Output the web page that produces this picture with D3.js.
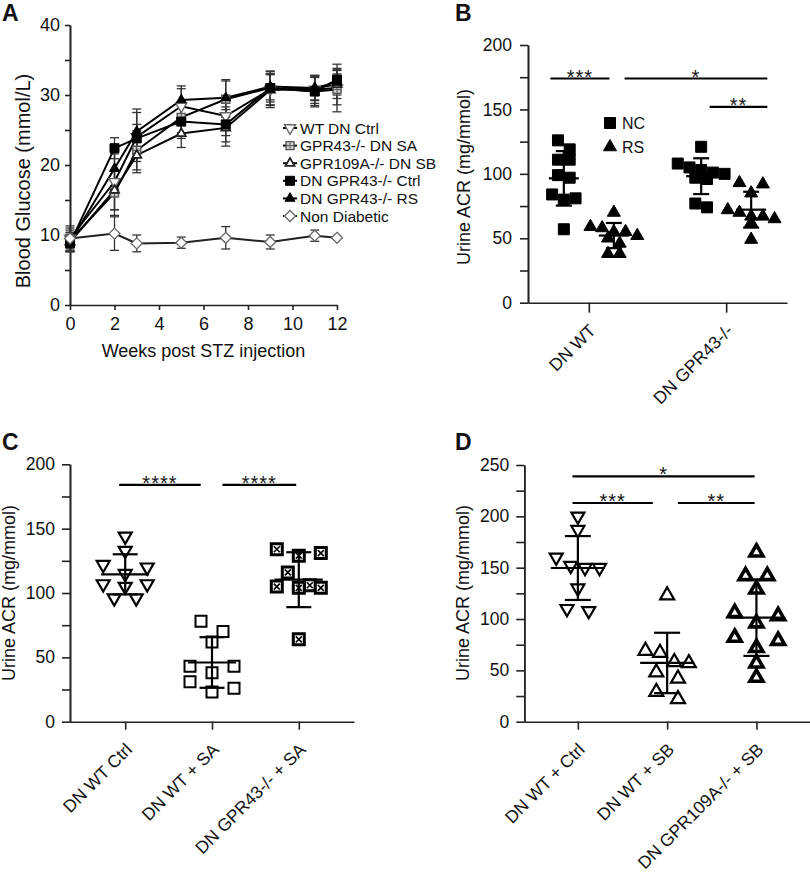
<!DOCTYPE html>
<html><head><meta charset="utf-8">
<script src="https://cdn.jsdelivr.net/npm/d3@7"></script>
<style>
body{margin:0;background:#fff}
svg{display:block}
text{font-family:"Liberation Sans",Arial,Helvetica,sans-serif;fill:#111}
</style>
</head><body>
<svg id="chart" width="810" height="872"></svg>
<script>
// ---------------- DATA ----------------
// Panel A: blood glucose time course
const aWeeks = [0, 2, 3, 5, 7, 9, 11, 12];
const aSeriesNames = ["WT DN Ctrl", "GPR43-/- DN SA", "GPR109A-/- DN SB", "DN GPR43-/- Ctrl", "DN GPR43-/- RS", "Non Diabetic"];
const aWtDnCtrl      = [9.5, 17.6, 24.0, 28.4, 27.0, 30.8, 30.8, 31.0];
const aWtDnCtrlSd    = [1.5, 4.0, 3.5, 2.5, 2.8, 2.6, 2.0, 3.4];
const aGpr43DnSa     = [9.2, 16.0, 22.1, 26.8, 29.4, 31.0, 30.5, 30.8];
const aGpr43DnSaSd   = [1.5, 3.2, 2.8, 2.2, 2.6, 2.4, 2.0, 2.2];
const aGpr109aDnSb   = [9.0, 16.4, 21.4, 24.5, 25.3, 30.7, 31.0, 31.5];
const aGpr109aDnSbSd = [1.4, 2.8, 2.5, 2.0, 2.6, 2.2, 1.8, 2.0];
const aGpr43Ctrl     = [8.8, 22.4, 23.8, 26.2, 25.8, 31.0, 30.5, 32.2];
const aGpr43CtrlSd   = [1.2, 1.5, 2.0, 2.4, 2.5, 2.0, 2.2, 1.6];
const aGpr43Rs       = [9.0, 19.5, 24.8, 29.3, 29.6, 31.2, 31.0, 31.8];
const aGpr43RsSd     = [1.3, 2.5, 3.2, 2.0, 2.6, 1.9, 1.7, 1.8];
const aNonDiabetic   = [9.5, 10.2, 8.8, 8.9, 9.6, 9.0, 9.9, 9.6];
const aNonDiabeticSd = [1.8, 2.4, 1.2, 0.8, 1.6, 1.0, 0.8, 0];
const aYTicks = [0, 10, 20, 30, 40];
const aXTicks = [0, 2, 4, 6, 8, 10, 12];

// Panel B
const bCats = ["DN WT", "DN GPR43-/-"];
const bDiets = ["NC", "RS"];
const bWtNc    = [126, 119, 111, 111, 99, 97, 84, 81, 80, 57];
const bWtRs    = [70, 59, 58, 55, 55, 52, 50, 46, 38, 38];
const bGpr43Nc = [121, 108, 105, 103, 101, 100, 97, 96, 77, 74];
const bGpr43Rs = [93, 92, 85, 72, 70, 67, 67, 65, 62, 49];
const bYTicks = [0, 50, 100, 150, 200];
const bSigLabel = ["***", "*", "**"];
const bSigFrom  = [-0.28, 0.26, 0.88];
const bSigTo    = [0.15, 1.30, 1.30];
const bSigLevel = [174, 174, 152];

// Panel C
const cCats = ["DN WT Ctrl", "DN WT + SA", "DN GPR43-/- + SA"];
const cWtCtrl  = [144, 133, 122, 120, 115, 107, 107, 105, 96, 96];
const cWtSa    = [78, 70, 62, 43, 43, 38, 31, 26, 23];
const cGpr43Sa = [134, 131, 129, 116, 106, 105, 104, 104, 64];
const cYTicks = [0, 50, 100, 150, 200];
const cSigLabel = ["****", "****"];
const cSigFrom  = [-0.07, 1.12];
const cSigTo    = [0.87, 1.97];
const cSigLevel = [184, 184];

// Panel D
const dCats = ["DN WT + Ctrl", "DN WT + SB", "DN GPR109A-/- + SB"];
const dWtCtrl     = [200, 187, 160, 152, 150, 150, 130, 110, 108];
const dWtSb       = [123, 69, 67, 58, 57, 48, 42, 29, 22];
const dGpr109aSb  = [165, 142, 142, 129, 106, 103, 96, 82, 79, 72, 57, 43];
const dYTicks = [0, 50, 100, 150, 200, 250];
const dSigLabel = ["*", "***", "**"];
const dSigFrom  = [-0.06, -0.06, 1.12];
const dSigTo    = [1.98, 0.84, 1.98];
const dSigLevel = [239, 213, 213];

// ---------------- DRAWING ----------------
const svg = d3.select("#chart");
const AX = "#222";

function triPath(s, up) {
  const h = s * 0.866;
  return up ? `M0,${-h*2/3}L${s/2},${h/3}L${-s/2},${h/3}Z`
            : `M0,${h*2/3}L${s/2},${-h/3}L${-s/2},${-h/3}Z`;
}
function sqPath(s) { return `M${-s/2},${-s/2}h${s}v${s}h${-s}Z`; }
function diaPath(s) { return `M0,${-s/2}L${s/2},0L0,${s/2}L${-s/2},0Z`; }

const markerStyles = {
  aTriDown:  {p: triPath(11, false), fill: "#fff", stroke: "#666", sw: 1.4},
  aSqGrid:   {p: sqPath(8), fill: "#ccc", stroke: "#555", sw: 1.4, cross: "plus"},
  aTriSmall: {p: triPath(9, true), fill: "#fff", stroke: "#222", sw: 1.8},
  aSqFill:   {p: sqPath(9), fill: "#000", stroke: "#000", sw: 1},
  aTriFill:  {p: triPath(10, true), fill: "#000", stroke: "#000", sw: 1},
  aDia:      {p: diaPath(11), fill: "#fff", stroke: "#666", sw: 1.3},
  bSq:       {p: sqPath(11), fill: "#000", stroke: "#000", sw: 1},
  bTri:      {p: triPath(13, true), fill: "#000", stroke: "#000", sw: 1},
  cTriDown:  {p: triPath(13, false), fill: "none", stroke: "#000", sw: 2.2},
  cSq:       {p: sqPath(11), fill: "none", stroke: "#000", sw: 2},
  cSqX:      {p: sqPath(11), fill: "#fff", stroke: "#000", sw: 3, cross: "x"},
  dTriUp:    {p: triPath(14, true), fill: "none", stroke: "#000", sw: 2.2},
  dTriHalf:  {p: triPath(13, true), fill: "#fff", stroke: "#000", sw: 3.6}
};

function drawMarker(g, key, x, y) {
  const st = markerStyles[key];
  const m = g.append("g").attr("transform", `translate(${x},${y})`);
  m.append("path").attr("d", st.p).attr("fill", st.fill).attr("stroke", st.stroke)
    .attr("stroke-width", st.sw).attr("stroke-linejoin", "miter");
  if (st.cross === "x") {
    m.append("path").attr("d", "M-3,-3L3,3M3,-3L-3,3").attr("stroke", "#000").attr("stroke-width", 1.6);
  } else if (st.cross === "plus") {
    m.append("path").attr("d", "M-4,0H4M0,-4V4").attr("stroke", "#555").attr("stroke-width", 1);
  }
}

function panelLetter(t, x, y) {
  svg.append("text").attr("x", x).attr("y", y).attr("font-size", 23).attr("font-weight", "bold").text(t);
}

function styleAxis(g, fs) {
  g.selectAll(".domain").attr("stroke", AX).attr("stroke-width", 1.6);
  g.selectAll(".tick line").attr("stroke", AX).attr("stroke-width", 1.6);
  g.selectAll(".tick text").attr("font-size", fs).attr("fill", "#111")
    .style("font-family", '"Liberation Sans", Arial, Helvetica, sans-serif');
}

function yAxis(y, x, major, step, tickLen, pad, fs) {
  const minor = [];
  for (let v = major[0]; v <= major[major.length-1]; v += step) if (!major.includes(v)) minor.push(v);
  const g1 = svg.append("g").attr("transform", `translate(${x},0)`)
    .call(d3.axisLeft(y).tickValues(minor).tickSize(tickLen).tickSizeOuter(0).tickFormat(""));
  styleAxis(g1, fs);
  const g = svg.append("g").attr("transform", `translate(${x},0)`)
    .call(d3.axisLeft(y).tickValues(major).tickSize(tickLen).tickSizeOuter(0).tickPadding(pad).tickFormat(d3.format("d")));
  styleAxis(g, fs);
  return g;
}

function yTitle(text, x, y, fs) {
  svg.append("text").attr("transform", `translate(${x},${y}) rotate(-90)`)
    .attr("text-anchor", "middle").attr("font-size", fs).text(text);
}

function catAxis(xs, yPos, cats, tickLen, fs) {
  const g = svg.append("g").attr("transform", `translate(0,${yPos})`)
    .call(d3.axisBottom(xs).tickSize(tickLen).tickSizeOuter(0).tickFormat(""));
  styleAxis(g, fs);
  cats.forEach(c => {
    svg.append("text")
      .attr("transform", `translate(${xs(c) + 8},${yPos + 29}) rotate(-45)`)
      .attr("text-anchor", "end").attr("font-size", fs).text(c);
  });
}

// row-based scatter spreading (computed from values, like GraphPad)
function swarmOffsets(vals, y, binPx) {
  const order = vals.map((v, i) => i).sort((a, b) => vals[b] - vals[a]);
  const rows = [];
  order.forEach(i => {
    const py = y(vals[i]);
    const last = rows[rows.length - 1];
    if (last && Math.abs(py - last.y0) < binPx) last.items.push(i);
    else rows.push({y0: py, items: [i]});
  });
  const off = new Array(vals.length);
  const pattern = {1: [0], 2: [-0.5, 0.5], 3: [-1, 1, 0], 4: [-1, -0.33, 0.33, 1], 5: [-2, -1, 0, 1, 2]};
  rows.forEach(r => {
    const p = pattern[r.items.length] || r.items.map((_, k) => k - (r.items.length - 1) / 2);
    r.items.forEach((idx, k) => off[idx] = p[k]);
  });
  return off;
}

function scatterGroup(vals, cx, y, key, colStep, binPx, meanHalf, capHalf) {
  const offs = swarmOffsets(vals, y, binPx);
  const g = svg.append("g");
  vals.forEach((v, i) => drawMarker(g, key, cx + offs[i] * colStep, y(v)));
  const m = d3.mean(vals), sd = d3.deviation(vals);
  const eb = svg.append("g").attr("stroke", "#000").attr("stroke-width", 2.2).attr("fill", "none");
  eb.append("line").attr("x1", cx).attr("x2", cx).attr("y1", y(m + sd)).attr("y2", y(m - sd));
  eb.append("line").attr("x1", cx - meanHalf).attr("x2", cx + meanHalf).attr("y1", y(m)).attr("y2", y(m));
  [m + sd, m - sd].forEach(v => eb.append("line").attr("x1", cx - capHalf).attr("x2", cx + capHalf).attr("y1", y(v)).attr("y2", y(v)));
}

function sigBars(xi, y, labels, from, to, level, fs) {
  labels.forEach((lab, i) => {
    const x1 = xi(from[i]), x2 = xi(to[i]), yy = y(level[i]);
    svg.append("line").attr("x1", x1).attr("x2", x2).attr("y1", yy).attr("y2", yy)
      .attr("stroke", "#000").attr("stroke-width", 2.2);
    svg.append("text").attr("x", (x1 + x2) / 2).attr("y", yy + 5).attr("text-anchor", "middle")
      .attr("font-size", fs).attr("letter-spacing", 1).text(lab);
  });
}

// ---------- Panel A ----------
{
  panelLetter("A", 2, 21);
  const x = d3.scaleLinear().domain([0, 12]).range([70, 337]);
  const y = d3.scaleLinear().domain([0, 40]).range([305, 25]);
  yAxis(y, 70, aYTicks, 5, 5, 5, 18);
  const gx = svg.append("g").attr("transform", "translate(0,305)")
    .call(d3.axisBottom(x).tickValues(aXTicks).tickSize(5).tickSizeOuter(0).tickPadding(7).tickFormat(d3.format("d")));
  styleAxis(gx, 18);
  svg.append("text").attr("x", 203.5).attr("y", 357).attr("text-anchor", "middle").attr("font-size", 18)
    .text("Weeks post STZ injection");
  yTitle("Blood Glucose (mmol/L)", 30, 181, 20);

  const series = [
    {vals: aWtDnCtrl, sd: aWtDnCtrlSd, mk: "aTriDown", lc: "#000"},
    {vals: aGpr43DnSa, sd: aGpr43DnSaSd, mk: "aSqGrid", lc: "#000"},
    {vals: aGpr109aDnSb, sd: aGpr109aDnSbSd, mk: "aTriSmall", lc: "#000"},
    {vals: aGpr43Ctrl, sd: aGpr43CtrlSd, mk: "aSqFill", lc: "#000"},
    {vals: aGpr43Rs, sd: aGpr43RsSd, mk: "aTriFill", lc: "#000"},
    {vals: aNonDiabetic, sd: aNonDiabeticSd, mk: "aDia", lc: "#222"}
  ];
  const line = d3.line().x((d, i) => x(aWeeks[i])).y(d => y(d));
  series.forEach(s => {
    const g = svg.append("g").attr("stroke", "#333").attr("stroke-width", 1.3);
    s.vals.forEach((v, i) => {
      if (!s.sd[i]) return;
      const cx = x(aWeeks[i]);
      g.append("line").attr("x1", cx).attr("x2", cx).attr("y1", y(v + s.sd[i])).attr("y2", y(v - s.sd[i]));
      [v + s.sd[i], v - s.sd[i]].forEach(e => g.append("line").attr("x1", cx - 4.5).attr("x2", cx + 4.5).attr("y1", y(e)).attr("y2", y(e)));
    });
  });
  series.forEach(s => {
    svg.append("path").datum(s.vals).attr("d", line).attr("fill", "none")
      .attr("stroke", s.lc).attr("stroke-width", 2);
  });
  series.forEach(s => {
    const g = svg.append("g");
    s.vals.forEach((v, i) => drawMarker(g, s.mk, x(aWeeks[i]), y(v)));
  });
  // legend
  series.forEach((s, i) => {
    const ly = 128 + i * 17.6;
    svg.append("line").attr("x1", 283).attr("x2", 297).attr("y1", ly).attr("y2", ly)
      .attr("stroke", s.lc).attr("stroke-width", 2);
    drawMarker(svg.append("g"), s.mk, 290, ly);
    svg.append("text").attr("x", 300).attr("y", ly + 5.5).attr("font-size", 15.5).text(aSeriesNames[i]);
  });
}

// ---------- Panel B ----------
{
  panelLetter("B", 455, 21);
  const y = d3.scaleLinear().domain([0, 200]).range([302.7, 45]);
  const x = d3.scalePoint().domain(bCats).range([528, 787]).padding(0.443);
  const sub = d3.scalePoint().domain(bDiets).range([-25, 25]);
  const xi = i => x(bCats[0]) + i * x.step();
  yAxis(y, 528, bYTicks, 25, 8, 8, 17.5);
  catAxis(x, 302.7, bCats, 10, 17.5);
  yTitle("Urine ACR (mg/mmol)", 470, 177, 18);
  const groups = [
    [bWtNc, bCats[0], "NC", "bSq"], [bWtRs, bCats[0], "RS", "bTri"],
    [bGpr43Nc, bCats[1], "NC", "bSq"], [bGpr43Rs, bCats[1], "RS", "bTri"]
  ];
  groups.forEach(([vals, c, d, mk]) => scatterGroup(vals, x(c) + sub(d), y, mk, 11.7, 11, 15, 8));
  sigBars(xi, y, bSigLabel, bSigFrom, bSigTo, bSigLevel, 20);
  bDiets.forEach((d, i) => {
    const ly = 123 + i * 24;
    drawMarker(svg.append("g"), i === 0 ? "bSq" : "bTri", 610, ly);
    svg.append("text").attr("x", 622).attr("y", ly + 5.5).attr("font-size", 16).text(d);
  });
}

// ---------- Panel C ----------
{
  panelLetter("C", 2, 450);
  const y = d3.scaleLinear().domain([0, 200]).range([721.7, 464.3]);
  const x = d3.scalePoint().domain(cCats).range([70, 354]).padding(0.636);
  const xi = i => x(cCats[0]) + i * x.step();
  yAxis(y, 70, cYTicks, 25, 8, 7, 17.5);
  catAxis(x, 721.7, cCats, 8, 17.5);
  yTitle("Urine ACR (mg/mmol)", 15, 593, 18);
  scatterGroup(cWtCtrl, x(cCats[0]), y, "cTriDown", 22, 13, 24, 12.5);
  scatterGroup(cWtSa, x(cCats[1]), y, "cSq", 22, 13, 24, 12.5);
  scatterGroup(cGpr43Sa, x(cCats[2]), y, "cSqX", 22, 13, 24, 12.5);
  sigBars(xi, y, cSigLabel, cSigFrom, cSigTo, cSigLevel, 20);
}

// ---------- Panel D ----------
{
  panelLetter("D", 455, 450);
  const y = d3.scaleLinear().domain([0, 250]).range([721.7, 465]);
  const x = d3.scalePoint().domain(dCats).range([524.3, 810]).padding(0.6);
  const xi = i => x(dCats[0]) + i * x.step();
  yAxis(y, 524.3, dYTicks, 25, 8, 7, 17.5);
  catAxis(x, 721.7, dCats, 8, 17.5);
  yTitle("Urine ACR (mg/mmol)", 469, 593, 18);
  scatterGroup(dWtCtrl, x(dCats[0]), y, "cTriDown", 21.7, 13, 27, 13);
  scatterGroup(dWtSb, x(dCats[1]), y, "dTriUp", 21.7, 13, 27, 13);
  scatterGroup(dGpr109aSb, x(dCats[2]), y, "dTriHalf", 21.7, 13, 27, 13);
  sigBars(xi, y, dSigLabel, dSigFrom, dSigTo, dSigLevel, 20);
}
</script>
</body></html>
